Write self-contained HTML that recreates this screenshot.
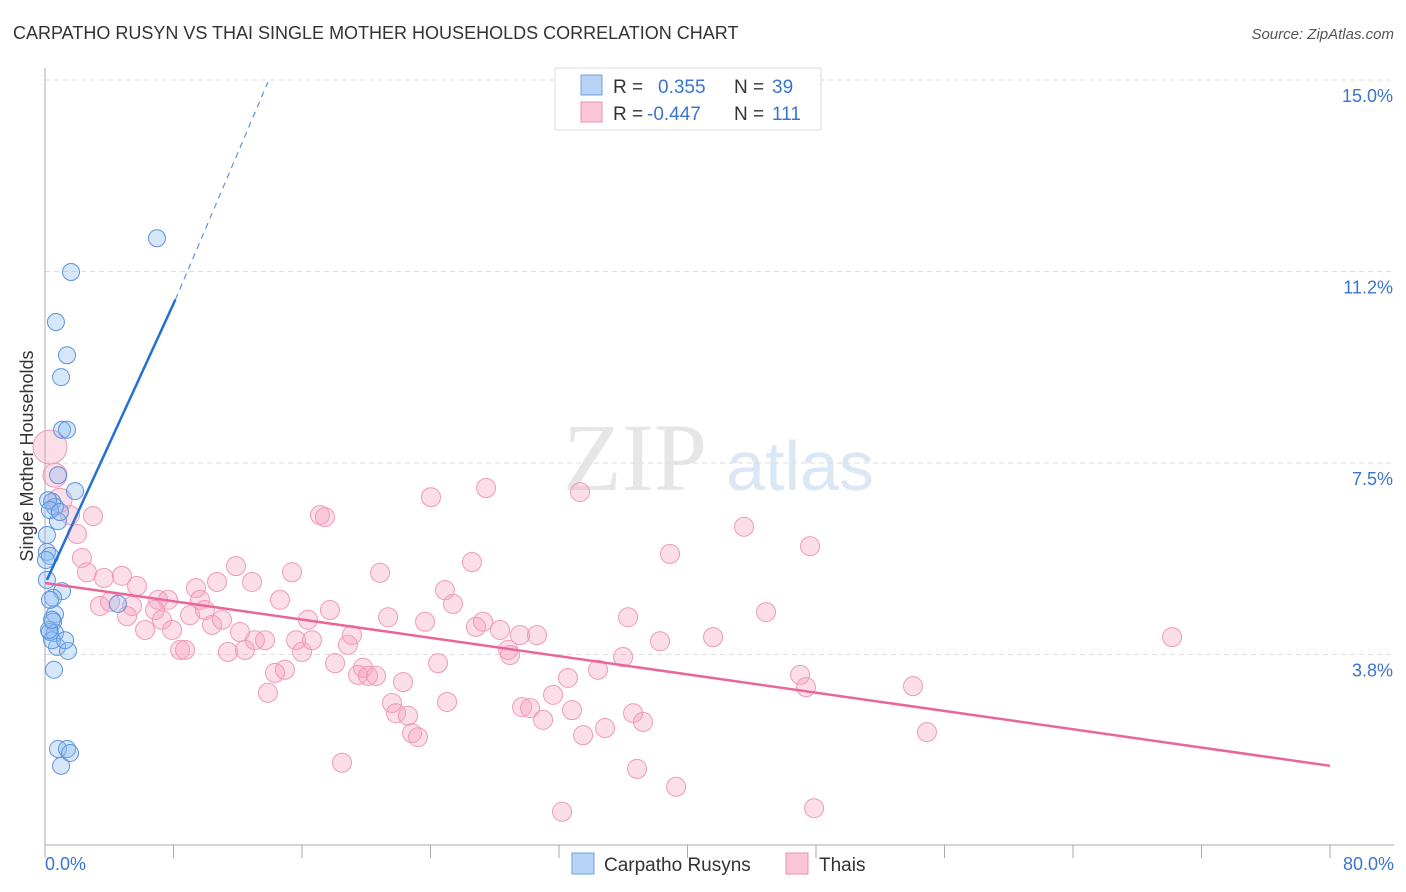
<!DOCTYPE html>
<html><head><meta charset="utf-8">
<style>
body{margin:0;background:#fff;font-family:"Liberation Sans",sans-serif;}
svg{display:block}
</style></head>
<body>
<svg id="chart" width="1406" height="892" viewBox="0 0 1406 892" xmlns="http://www.w3.org/2000/svg">
<text x="13" y="39" font-size="18" fill="#333">CARPATHO RUSYN VS THAI SINGLE MOTHER HOUSEHOLDS CORRELATION CHART</text>
<text x="1394" y="39" font-size="15" fill="#555" text-anchor="end" font-style="italic">Source: ZipAtlas.com</text>
<g>
<text x="635" y="490" font-size="96" fill="#e6e6e6" text-anchor="middle" font-family="Liberation Serif, serif">ZIP</text>
<text x="800" y="490" font-size="70" fill="#dce7f5" text-anchor="middle">atlas</text>
</g>
<g id="grid"></g>
<g id="axes"></g>
<g id="pts"></g>
<g id="trend"></g>
<text transform="translate(33,456) rotate(-90)" font-size="18" fill="#333" text-anchor="middle">Single Mother Households</text>
<g>
<rect x="555" y="68" width="266" height="62" fill="#fff" stroke="#ddd"/>
<rect x="581" y="75" width="21" height="20" fill="#b7d3f6" stroke="#6fa2e4"/>
<rect x="581" y="102" width="21" height="20" fill="#fbc7d6" stroke="#ee8fae"/>
<text x="613" y="93" font-size="19" fill="#333">R =</text>
<text x="658" y="93" font-size="19" fill="#3b74d0">0.355</text>
<text x="734" y="93" font-size="19" fill="#333">N =</text>
<text x="772" y="93" font-size="19" fill="#3b74d0">39</text>
<text x="613" y="120" font-size="19" fill="#333">R =</text>
<text x="647" y="120" font-size="19" fill="#3b74d0">-0.447</text>
<text x="734" y="120" font-size="19" fill="#333">N =</text>
<text x="772" y="120" font-size="19" fill="#3b74d0">111</text>
</g>
<g>
<rect x="572" y="853" width="22" height="21" fill="#b7d3f6" stroke="#6fa2e4"/>
<text x="604" y="871" font-size="19" fill="#333">Carpatho Rusyns</text>
<rect x="786" y="853" width="22" height="21" fill="#fbc7d6" stroke="#ee8fae"/>
<text x="819" y="871" font-size="19" fill="#333">Thais</text>
</g>
</svg>
<script>
const yTicks=[3.75,7.5,11.25,15];
const yTickLabels=["3.8%","7.5%","11.2%","15.0%"];
const xTickLabels=["0.0%","80.0%"];
const blueX=[6.97,1.62,0.68,1.37,1.00,1.06,1.37,0.81,1.87,0.44,0.62,0.81,0.12,0.12,0.31,0.06,1.06,0.50,0.62,0.50,0.31,0.62,0.75,1.43,0.56,0.44,0.81,1.37,1.56,1.00,4.54,0.19,0.31,0.93,0.25,0.44,0.12,0.31,1.25];
const blueY=[11.90,11.24,10.26,9.61,9.18,8.15,8.15,7.26,6.95,6.74,6.64,6.36,6.09,5.76,5.68,5.60,4.99,4.86,4.54,4.39,4.19,4.17,3.90,3.82,3.45,4.03,1.90,1.90,1.82,1.57,4.74,6.77,6.58,6.54,4.23,4.43,5.21,4.82,4.03];
const pinkX=[0.31,0.62,0.93,1.56,2.99,1.99,2.30,2.61,3.67,4.79,5.73,3.42,4.05,5.11,5.42,6.23,7.04,6.85,7.66,7.28,7.91,8.41,8.72,9.03,9.40,9.65,9.96,10.40,10.71,11.02,11.39,11.89,12.14,12.45,12.89,13.07,13.70,13.88,14.32,14.63,14.94,15.38,15.63,16.00,16.37,16.62,17.12,17.43,17.74,18.06,18.49,18.86,19.11,19.49,19.80,20.11,20.61,20.86,21.36,21.60,21.85,22.29,22.60,22.85,23.22,23.66,24.03,24.47,24.90,25.03,25.40,26.58,26.83,27.27,27.46,28.33,28.83,28.95,29.57,29.70,30.20,30.63,31.01,31.63,32.19,32.56,32.81,33.31,33.50,34.43,34.87,35.99,36.30,36.61,36.86,37.23,38.29,38.91,39.29,41.59,43.52,44.89,47.01,47.38,47.63,47.88,54.04,54.91,70.17];
const pinkY=[7.81,7.26,6.77,6.48,6.46,6.11,5.64,5.36,5.25,5.29,5.09,4.70,4.78,4.50,4.70,4.23,4.82,4.62,4.82,4.43,4.23,3.84,3.84,4.52,5.05,4.82,4.62,4.33,5.17,4.43,3.80,5.48,4.19,3.84,5.17,4.03,4.03,3.00,3.39,4.82,3.45,5.36,4.03,3.80,4.43,4.03,6.48,6.44,4.62,3.58,1.63,3.94,4.13,3.35,3.49,3.33,3.33,5.35,4.48,2.80,2.60,3.21,2.55,2.21,2.13,4.39,6.83,3.58,5.01,2.82,4.74,5.56,4.29,4.39,7.01,4.23,3.84,3.74,4.13,2.72,2.70,4.13,2.47,2.96,0.67,3.29,2.66,6.93,2.17,3.45,2.31,3.70,4.48,2.60,1.51,2.43,4.01,5.72,1.16,4.09,6.25,4.58,3.35,3.11,5.87,0.74,3.13,2.23,4.09];
const pinkTrend=[[0,5.15],[80,1.57]];
const blueTrend=[[0.12,5.21],[8.12,10.7],[13.88,14.96]];

const NS="http://www.w3.org/2000/svg";
const X0=45,X1=1330,Y0=846,YS=51.07;
function sx(v){return X0+(X1-X0)*v/80;}
function sy(v){return Y0-v*YS;}
function mk(tag,attrs,parent){const e=document.createElementNS(NS,tag);for(const k in attrs)e.setAttribute(k,attrs[k]);parent.appendChild(e);return e;}
const grid=document.getElementById('grid'),axes=document.getElementById('axes'),pts=document.getElementById('pts'),trend=document.getElementById('trend');
yTicks.forEach((t,i)=>{
  const l=mk('line',{x1:X0,x2:1394,y1:sy(t),y2:sy(t),stroke:'#ddd','stroke-dasharray':'5,4'},grid);
  
  
  const tx=mk('text',{x:1393,y:sy(t)+22,'font-size':18,fill:'#3b74d0','text-anchor':'end'},axes);
  tx.textContent=yTickLabels[i];
  
  
});
const xa=mk('line',{x1:X0,x2:1394,y1:845,y2:845,stroke:'#aaa'},axes);


const ya=mk('line',{x1:X0,x2:X0,y1:68,y2:845,stroke:'#aaa'},axes);


for(let i=0;i<=10;i++){
  const tk=mk('line',{x1:sx(i*8),x2:sx(i*8),y1:845,y2:858,stroke:'#aaa'},axes);
  
  
}
[[0,'start',45],[80,'end',1394]].forEach((d,i)=>{
  const tx=mk('text',{x:d[2],y:870,'font-size':18,fill:'#3b74d0','text-anchor':d[1]},axes);
  tx.textContent=xTickLabels[i];
  
  
});
pinkX.forEach((x,i)=>{
  const r=i===0?17:(i<3?12:9.5);
  const c=mk('circle',{cx:sx(x),cy:sy(pinkY[i]),r:r,fill:'rgba(245,160,190,0.35)',stroke:'#ef9ab6','stroke-width':1},pts);
  
  
});
blueX.forEach((x,i)=>{
  const c=mk('circle',{cx:sx(x),cy:sy(blueY[i]),r:8.5,fill:'rgba(140,185,240,0.35)',stroke:'#5b92dd','stroke-width':1},pts);
  
  
});
const pl=mk('line',{x1:sx(pinkTrend[0][0]),y1:sy(pinkTrend[0][1]),x2:sx(pinkTrend[1][0]),y2:sy(pinkTrend[1][1]),stroke:'#e8669a','stroke-width':2.5},trend);


const bl=mk('line',{x1:sx(blueTrend[0][0]),y1:sy(blueTrend[0][1]),x2:sx(blueTrend[1][0]),y2:sy(blueTrend[1][1]),stroke:'#2470d6','stroke-width':2.5},trend);


const bd=mk('line',{x1:sx(blueTrend[1][0]),y1:sy(blueTrend[1][1]),x2:sx(blueTrend[2][0]),y2:sy(blueTrend[2][1]),stroke:'#5b92dd','stroke-width':1.2,'stroke-dasharray':'6,5'},trend);


</script>
</body></html>
